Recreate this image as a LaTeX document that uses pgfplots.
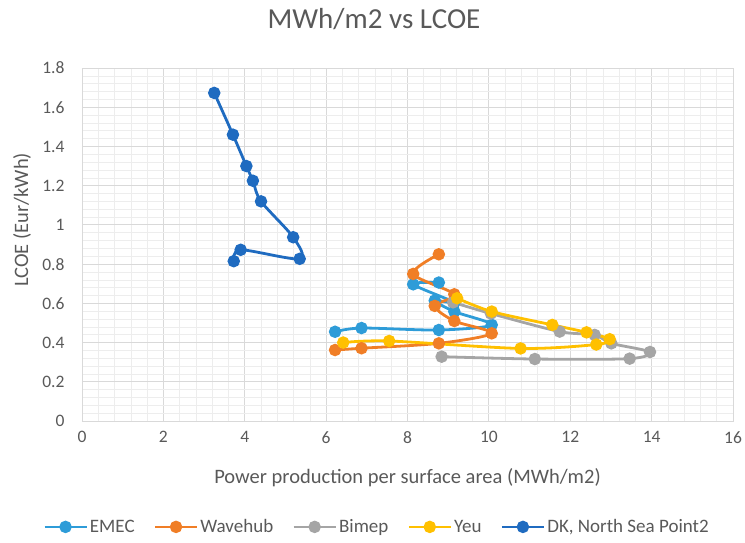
\documentclass[border=0pt]{standalone}
\usepackage{pgfplots}
\pgfplotsset{compat=1.18}
\usepackage{fontspec}
\setmainfont{Carlito}

\definecolor{emec}{HTML}{2E9CD8}
\definecolor{wavehub}{HTML}{F07E26}
\definecolor{bimep}{HTML}{A5A5A5}
\definecolor{yeu}{HTML}{FFC000}
\definecolor{dk}{HTML}{1F6BC0}
\definecolor{txt}{HTML}{595959}
\definecolor{gridmaj}{HTML}{D9D9D9}
\definecolor{gridmin}{HTML}{EDEDED}

\begin{document}
\begin{tikzpicture}
\path[use as bounding box] (-82bp,-122bp) rectangle (663bp,421bp);
\begin{axis}[
    at={(0,0)}, anchor=south west,
    scale only axis, width=651bp, height=353bp,
    xmin=0, xmax=16, ymin=0, ymax=1.8,
    xtick={0,2,4,6,8,10,12,14,16},
    ytick={0,0.2,0.4,0.6,0.8,1,1.2,1.4,1.6,1.8},
    minor x tick num=4, minor y tick num=4,
    grid=both,
    major grid style={draw=gridmaj, line width=0.8bp},
    minor grid style={draw=gridmin, line width=0.6bp},
    axis line style={draw=gridmaj, line width=0.8bp},
    tick style={draw=none},
    /pgf/number format/assume math mode=true,
    ticklabel style={font=\fontsize{17.5bp}{19bp}\selectfont, text=txt},
    yticklabel style={/pgf/number format/fixed, /pgf/number format/precision=1, xshift=-14bp},
    xticklabel style={yshift=-7bp},
    xlabel={Power production per surface area (MWh/m2)},
    ylabel={LCOE (Eur/kWh)},
    label style={font=\fontsize{20.5bp}{22bp}\selectfont, text=txt},
    xlabel style={at={(axis description cs:0.5,-0.161)}, anchor=center},
    ylabel style={at={(axis description cs:-0.092,0.57)}, anchor=center},
    title={MWh/m2 vs LCOE},
    title style={at={(axis description cs:0.4485,1.122)}, anchor=center, font=\fontsize{29bp}{31bp}\selectfont, text=txt},
    legend style={at={(axis description cs:0.453,-0.30)}, anchor=center, draw=none, fill=none,
        legend columns=5, font=\fontsize{19bp}{21bp}\selectfont, text=txt,
        nodes={inner xsep=2bp},
        /tikz/every even column/.append style={column sep=17bp}},
    legend image code/.code={\draw[mark repeat=2, mark phase=2] plot coordinates {(0bp,0bp) (21bp,0bp) (42bp,0bp)};},
    every axis plot/.append style={line width=2.8bp, mark=*, mark size=4.8bp, smooth, tension=0.5},
]

\addplot[emec, mark options={fill=emec, solid}] coordinates {
    (8.77,0.706) (8.14,0.697) (9.15,0.605) (8.67,0.614) (9.15,0.558)
    (10.07,0.490) (8.77,0.464) (6.87,0.474) (6.22,0.455)
};
\addlegendentry{EMEC}

\addplot[wavehub, mark options={fill=wavehub, solid}] coordinates {
    (8.77,0.850) (8.14,0.750) (9.15,0.646) (8.67,0.587) (9.15,0.510)
    (10.07,0.447) (8.77,0.396) (6.87,0.371) (6.22,0.362)
};
\addlegendentry{Wavehub}

\addplot[bimep, mark options={fill=bimep, solid}] coordinates {
    (9.12,0.605) (10.05,0.548) (11.74,0.456) (12.60,0.439) (13.01,0.396)
    (13.96,0.352) (13.46,0.318) (11.13,0.316) (8.84,0.328)
};
\addlegendentry{Bimep}

\addplot[yeu, mark options={fill=yeu, solid}] coordinates {
    (9.22,0.626) (10.07,0.558) (11.56,0.490) (12.40,0.452) (12.97,0.417)
    (12.64,0.390) (10.78,0.370) (7.55,0.408) (6.42,0.400)
};
\addlegendentry{Yeu}

\addplot[dk, mark options={fill=dk, solid}] coordinates {
    (3.25,1.673) (3.71,1.460) (4.04,1.300) (4.20,1.225) (4.40,1.120)
    (5.19,0.937) (5.35,0.827) (3.90,0.873) (3.73,0.815)
};
\addlegendentry{DK, North Sea Point2}

\end{axis}
\end{tikzpicture}
\end{document}
